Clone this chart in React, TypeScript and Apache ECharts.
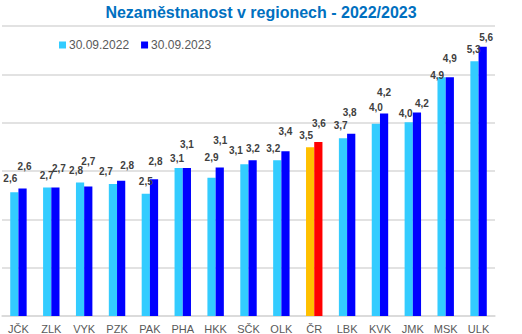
import React, { useEffect, useRef } from "react";
import * as echarts from "echarts";

const categories = ["JČK", "ZLK", "VYK", "PZK", "PAK", "PHA", "HKK", "SČK", "OLK", "ČR", "LBK", "KVK", "JMK", "MSK", "ULK"];
const values2022 = [2.56, 2.66, 2.76, 2.73, 2.53, 3.06, 2.86, 3.14, 3.22, 3.49, 3.68, 3.98, 4.01, 4.94, 5.27];
const values2023 = [2.64, 2.66, 2.68, 2.8, 2.83, 3.06, 3.07, 3.22, 3.41, 3.6, 3.77, 4.19, 4.21, 4.94, 5.57];
const seriesNames = ["30.09.2022", "30.09.2023"];
const highlightCategory = "ČR";

// label placement (dx, dy above bar top), separate from data
const labelDx2022 = [-4, -0.5, -4, -7, 0, -1.6, 0, -8.5, -4, -4, -2.4, 0, -3, -4.4, -0.8];
const labelDy2022 = [14, 12.4, 11.7, 13, 12.7, 10, 20, 13.5, 12, 12, 12.8, 16, 9, 2, 12];
const labelDx2023 = [2, 3.5, 0, 6, 1.5, 0, 0.5, 0.3, 0, 0.5, -1.5, 0, 5, 0, 3.5];
const labelDy2023 = [22, 19, 25.4, 15.4, 18, 23.3, 27, 12, 20, 18.6, 21, 20.7, 9.4, 18.7, 9];

const FONT = "'Liberation Sans', Arial, sans-serif";

export default function App() {
  const ref = useRef<HTMLDivElement>(null);
  useEffect(() => {
    if (!ref.current) return;
    const chart = echarts.init(ref.current, undefined, { renderer: "svg" });
    const fmt = (p: any) => Number(p.value).toFixed(1).replace(".", ",");
    const labelBase = {
      show: true,
      position: "top",
      distance: 0,
      verticalAlign: "middle",
      fontSize: 10,
      fontWeight: "bold",
      fontFamily: FONT,
      color: "#404040",
      formatter: fmt,
    };
    const mk = (vals: number[], dx: number[], dy: number[], base: string, hl: string) =>
      vals.map((v, i) => ({
        value: v,
        itemStyle: { color: categories[i] === highlightCategory ? hl : base },
        label: { offset: [dx[i], -dy[i]] },
      }));
    chart.setOption({
      animation: false,
      backgroundColor: "#ffffff",
      title: {
        text: "Nezaměstnanost v regionech - 2022/2023",
        left: "center",
        top: 4,
        padding: 0,
        textStyle: { color: "#0070C0", fontSize: 16, fontWeight: "bold", fontFamily: FONT },
      },
      legend: {
        left: 59,
        top: 39,
        padding: 0,
        icon: "rect",
        itemWidth: 7,
        itemHeight: 7,
        itemGap: 12,
        textStyle: { color: "#595959", fontSize: 12, fontFamily: FONT, padding: [0, 0, 0, -2] },
        data: [
          { name: seriesNames[0], itemStyle: { color: "#33CCFF" } },
          { name: seriesNames[1], itemStyle: { color: "#0000FF" } },
        ],
      },
      grid: { left: 2, right: 27, top: 26, bottom: 18, containLabel: false },
      xAxis: {
        type: "category",
        data: categories,
        axisTick: { show: false },
        axisLine: { lineStyle: { color: "#D9D9D9", width: 1.5 } },
        axisLabel: { interval: 0, color: "#595959", fontSize: 11, fontFamily: FONT, margin: 7 },
      },
      yAxis: {
        type: "value",
        min: 0,
        max: 6,
        interval: 1,
        axisLabel: { show: false },
        axisLine: { show: false },
        axisTick: { show: false },
        splitLine: { lineStyle: { color: "#D9D9D9", width: 1.5 } },
      },
      series: [
        {
          name: seriesNames[0],
          type: "bar",
          barWidth: "25%",
          barGap: "0%",
          itemStyle: { color: "#33CCFF" },
          label: labelBase,
          data: mk(values2022, labelDx2022, labelDy2022, "#33CCFF", "#FFC000"),
        },
        {
          name: seriesNames[1],
          type: "bar",
          barWidth: "25%",
          barGap: "0%",
          itemStyle: { color: "#0000FF" },
          label: labelBase,
          data: mk(values2023, labelDx2023, labelDy2023, "#0000FF", "#FF0000"),
        },
      ],
    });
    return () => chart.dispose();
  }, []);
  return <div ref={ref} style={{ position: "fixed", left: 0, top: 0, width: 522, height: 334 }} />;
}
